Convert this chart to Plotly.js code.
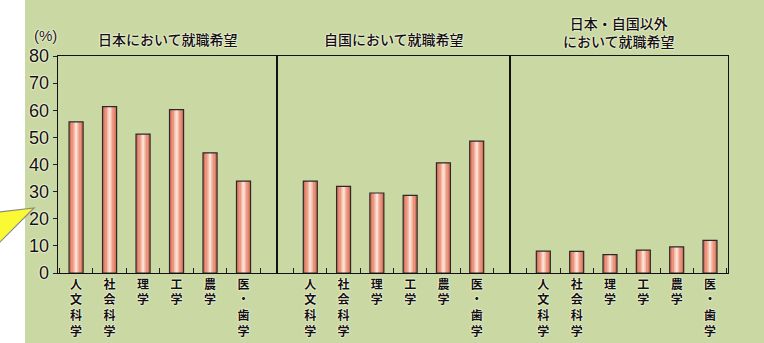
<!DOCTYPE html>
<html>
<head>
<meta charset="utf-8">
<script src="https://cdn.plot.ly/plotly-3.0.1.min.js"></script>
<style>
html,body{margin:0;padding:0;background:#ffffff;}
#chart{width:764px;height:343px;}
</style>
</head>
<body>
<div id="chart"></div>
<script>
// ---- data ----
const categories = ['人文科学', '社会科学', '理学', '工学', '農学', '医・歯学'];
const panelTitles = ['日本において就職希望', '自国において就職希望', '日本・自国以外<br>において就職希望'];
const japanValues = [55.7, 61.3, 51.2, 60.2, 44.3, 33.9];
const homeValues  = [33.9, 31.9, 29.5, 28.6, 40.6, 48.6];
const otherValues = [8.1, 8.0, 6.8, 8.4, 9.6, 12.0];
const yTickValues = [0, 10, 20, 30, 40, 50, 60, 70, 80];
const yUnitLabel = '(%)';

// ---- build ----
const seriesList = [japanValues, homeValues, otherValues];
const verticalLabels = categories.map(c => c.split('').join('<br>'));
const axisSuffix = ['', '2', '3'];

const W = 764, H = 343;
const M = {l: 58, r: 36, t: 56, b: 70};
const PW = W - M.l - M.r, PH = H - M.t - M.b;
const px = v => (v - M.l) / PW;
const py = v => (H - M.b - v) / PH;

const layers = [
  {width: 0.42, color: '#d9735c', line: 0},
  {width: 0.30, color: '#e8957f', line: 0},
  {width: 0.16, color: '#f5b9a6', line: 0},
  {width: 0.07, color: '#fde0d4', line: 0},
  {width: 0.42, color: 'rgba(0,0,0,0)', line: 1.2}
];

const traces = [];
seriesList.forEach((vals, p) => {
  layers.forEach(L => {
    traces.push({
      type: 'bar',
      x: verticalLabels,
      y: vals,
      width: L.width,
      xaxis: 'x' + axisSuffix[p],
      yaxis: 'y' + axisSuffix[p],
      marker: {color: L.color, line: {color: '#2a2a2a', width: L.line}},
      hoverinfo: 'skip',
      showlegend: false
    });
  });
});

const halo = '0 0 2px #fffbe6, 0 0 2px #fffbe6, 0 0 1px #fffbe6';
const cjk = '"Noto Sans CJK JP", "Noto Sans", sans-serif';

const domains = [
  [0, px(277)],
  [px(277), px(510)],
  [px(510), 1]
];
const ranges = [[-0.54, 6], [-1, 6], [-1, 5.54]];

const layout = {
  width: W, height: H,
  margin: M,
  paper_bgcolor: '#ffffff',
  plot_bgcolor: '#ffffff',
  barmode: 'overlay',
  showlegend: false,
  annotations: [],
  shapes: [
    {type: 'rect', xref: 'paper', yref: 'paper', x0: px(25), x1: px(780), y0: py(360), y1: py(-20),
     fillcolor: '#cad9a3', line: {width: 0}, layer: 'below'},
    {type: 'path', xref: 'paper', yref: 'paper',
     path: 'M ' + px(-2) + ' ' + py(212) + ' L ' + px(34) + ' ' + py(208) + ' L ' + px(-2) + ' ' + py(244) + ' Z',
     fillcolor: '#fbf834', line: {color: '#8a8a80', width: 1.2}, layer: 'above'}
  ]
};

for (let p = 0; p < 3; p++) {
  const s = axisSuffix[p];
  layout['xaxis' + s] = {
    domain: domains[p],
    anchor: 'y' + s,
    type: 'category',
    range: ranges[p],
    tickson: 'boundaries',
    ticks: 'inside',
    ticklen: 5,
    tickwidth: 1,
    tickcolor: '#222',
    showline: true,
    mirror: true,
    linecolor: '#111',
    linewidth: 1.3,
    showgrid: false,
    zeroline: false,
    fixedrange: true,
    tickfont: {family: cjk, size: 12, color: '#111', weight: 700, shadow: halo}
  };
  layout['yaxis' + s] = {
    anchor: 'x' + s,
    range: [0, 80],
    tickvals: yTickValues,
    ticktext: yTickValues.map(String),
    ticks: p === 0 ? 'outside' : '',
    ticklen: 4,
    tickcolor: '#222',
    showticklabels: p === 0,
    showline: true,
    mirror: true,
    linecolor: '#111',
    linewidth: 1.3,
    showgrid: false,
    zeroline: false,
    fixedrange: true,
    tickfont: {family: '"Liberation Sans", Arial, sans-serif', size: 18, color: '#111', shadow: halo}
  };
  if (p > 0) layout['yaxis' + s].matches = 'y';
  layout.annotations.push({
    xref: 'x' + s + ' domain', yref: 'paper',
    x: 0.5, y: p === 2 ? py(32) : py(39),
    xanchor: 'center', yanchor: 'middle',
    text: panelTitles[p], showarrow: false,
    font: {family: cjk, size: 14, color: '#111', weight: 500, shadow: halo}
  });
}
layout.annotations.push({
  xref: 'paper', yref: 'paper', x: px(45), y: py(35),
  xanchor: 'center', yanchor: 'middle', text: yUnitLabel, showarrow: false,
  font: {family: '"Liberation Sans", Arial, sans-serif', size: 15, color: '#1a1a1a', shadow: halo}
});

Plotly.newPlot('chart', traces, layout, {displayModeBar: false, staticPlot: true});
</script>
</body>
</html>
